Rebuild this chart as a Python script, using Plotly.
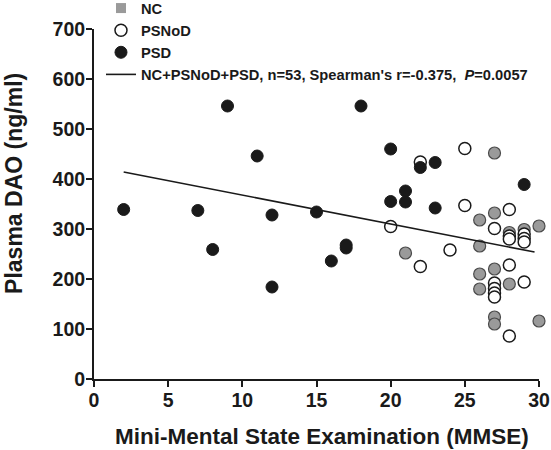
import plotly.graph_objects as go

# ---- data ----
nc_mmse = [21, 26, 26, 26, 26, 27, 27, 27, 27, 27, 28, 28, 29, 30, 30]
nc_dao = [252, 318, 266, 210, 180, 452, 332, 220, 124, 110, 293, 190, 299, 306, 116]

psnod_mmse = [20, 22, 22, 24, 25, 25, 27, 28, 28, 28, 29, 29, 29, 28, 29, 28, 27, 27, 27, 27]
psnod_dao = [305, 434, 225, 258, 461, 347, 301, 339, 286, 280, 290, 281, 274, 228, 194, 86, 192, 181, 172, 164]

psd_mmse = [2, 7, 8, 9, 11, 12, 12, 15, 16, 17, 17, 18, 20, 20, 21, 21, 22, 23, 23, 29]
psd_dao = [339, 337, 259, 546, 446, 328, 184, 334, 236, 262, 268, 546, 460, 355, 376, 354, 423, 433, 342, 389]

fit_mmse = [2, 29.7]
fit_dao = [414, 254]

x_ticks = [0, 5, 10, 15, 20, 25, 30]
y_ticks = [0, 100, 200, 300, 400, 500, 600, 700]

x_title = "Mini-Mental State Examination (MMSE)"
y_title = "Plasma DAO (ng/ml)"

FONT = "Liberation Sans, Arial, sans-serif"

fig = go.Figure()

# NC points (circles in plot), legend uses a square entry
fig.add_trace(go.Scatter(
    x=nc_mmse, y=nc_dao, mode="markers", name="NC", showlegend=False,
    marker=dict(symbol="circle", size=12, color="#9a9a9a",
                line=dict(color="#4a4a4a", width=1.2)),
    cliponaxis=False))
fig.add_trace(go.Scatter(
    x=[None], y=[None], mode="markers", name="NC",
    marker=dict(symbol="square", size=10, color="#9a9a9a",
                line=dict(color="#9a9a9a", width=0))))
fig.add_trace(go.Scatter(
    x=psnod_mmse, y=psnod_dao, mode="markers", name="PSNoD",
    marker=dict(symbol="circle", size=12, color="white",
                line=dict(color="#1a1a1a", width=1.5)),
    cliponaxis=False))
fig.add_trace(go.Scatter(
    x=psd_mmse, y=psd_dao, mode="markers", name="PSD",
    marker=dict(symbol="circle", size=12, color="#1a1a1a",
                line=dict(color="#1a1a1a", width=1)),
    cliponaxis=False))
fig.add_trace(go.Scatter(
    x=fit_mmse, y=fit_dao, mode="lines",
    name="NC+PSNoD+PSD, n=53, Spearman's r=-0.375,  <i>P</i>=0.0057",
    line=dict(color="#1a1a1a", width=1.6)))

fig.update_layout(
    width=551, height=450,
    margin=dict(l=94, r=12, t=29, b=71, autoexpand=False),
    paper_bgcolor="white", plot_bgcolor="white",
    font=dict(family=FONT, color="#1a1a1a"),
    showlegend=True,
    legend=dict(x=0.0157, y=1.1057, xref="paper", yref="paper",
                xanchor="left", yanchor="top",
                bgcolor="rgba(0,0,0,0)", tracegroupgap=0,
                font=dict(family=FONT, size=14.7, weight="bold", color="#1a1a1a"),
                itemwidth=30),
    xaxis=dict(range=[0, 30], tickvals=x_ticks, ticktext=[str(v) for v in x_ticks],
               showline=True, linecolor="#1a1a1a", linewidth=2,
               ticks="outside", ticklen=6, tickwidth=2, tickcolor="#1a1a1a",
               showgrid=False, zeroline=False, ticklabelstandoff=-3,
               tickfont=dict(family=FONT, size=19.5, weight="bold", color="#1a1a1a")),
    yaxis=dict(range=[0, 700], tickvals=y_ticks, ticktext=[str(v) for v in y_ticks],
               showline=True, linecolor="#1a1a1a", linewidth=2,
               ticks="outside", ticklen=6, tickwidth=2, tickcolor="#1a1a1a",
               showgrid=False, zeroline=False, ticklabelstandoff=-3,
               tickfont=dict(family=FONT, size=19.5, weight="bold", color="#1a1a1a")),
    annotations=[
        dict(text=x_title, xref="paper", yref="paper", x=0.512, y=-0.124,
             xanchor="center", yanchor="top", showarrow=False,
             font=dict(family=FONT, size=22.5, weight="bold", color="#1a1a1a")),
        dict(text=y_title, xref="paper", yref="paper", x=-0.18, y=0.56,
             xanchor="center", yanchor="middle", showarrow=False, textangle=-90,
             font=dict(family=FONT, size=23, weight="bold", color="#1a1a1a")),
    ],
)

fig.write_html("out.html", config={"displayModeBar": False},
               post_script="document.body.style.margin='0';document.body.style.padding='0';")
